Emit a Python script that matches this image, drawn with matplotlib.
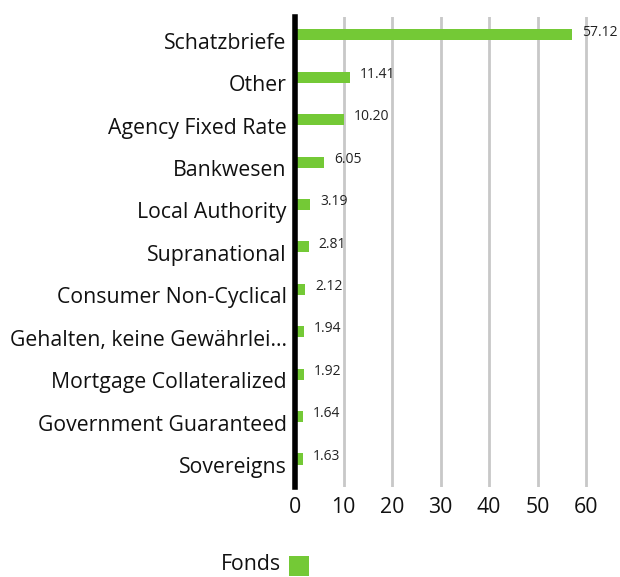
import matplotlib
matplotlib.use("Agg")
import matplotlib.pyplot as plt
import matplotlib.transforms as mtransforms
from matplotlib.patches import Rectangle

categories = ["Schatzbriefe", "Other", "Agency Fixed Rate", "Bankwesen", "Local Authority",
              "Supranational", "Consumer Non-Cyclical", "Gehalten, keine Gewährlei...",
              "Mortgage Collateralized", "Government Guaranteed", "Sovereigns"]
values = [57.12, 11.41, 10.20, 6.05, 3.19, 2.81, 2.12, 1.94, 1.92, 1.64, 1.63]
xticks = [0, 10, 20, 30, 40, 50, 60]
series_name = "Fonds"

green = "#74C936"
plt.rcParams['font.family'] = ['Open Sans', 'DejaVu Sans']

W, H = 620, 577
fig = plt.figure(figsize=(W/100, H/100), dpi=100)
x0, x60 = 295, 586
ytop, ybot = 17, 487
xmax = 62
x1 = x0 + (x60 - x0) * xmax / 60
ax = fig.add_axes([x0/W, 1-ybot/H, (x1-x0)/W, (ybot-ytop)/H])

pos = list(range(len(categories)))
ax.barh(pos, values, height=0.26, color=green, zorder=3)
ax.set_xlim(0, xmax)
ax.set_ylim(10.66, -0.42)
ax.set_yticks(pos)
ax.set_yticklabels(categories, fontsize=15.3, color="#111111")
ax.set_xticks(xticks)
ax.set_xticklabels([str(t) for t in xticks], fontsize=15.3, color="#111111")
ax.tick_params(axis='y', length=0, pad=6)
ax.tick_params(axis='x', length=0, pad=7)
shift = mtransforms.ScaledTranslation(0, -6/100, fig.dpi_scale_trans)
for lbl in ax.get_yticklabels():
    lbl.set_transform(lbl.get_transform() + shift)
for s in ["top", "right", "bottom"]:
    ax.spines[s].set_visible(False)
ax.spines["left"].set_linewidth(4)
ax.spines["left"].set_color("black")
ax.spines["left"].set_zorder(4)
ax.grid(axis='x', color="#c8c8c8", linewidth=2, zorder=1)
ax.grid(axis='y', visible=False)

for i, v in enumerate(values):
    ax.annotate(f"{v:.2f}", (v, i), xytext=(7, 2), textcoords="offset points",
                fontsize=10, va="center", ha="left", color="#222222", annotation_clip=False)

# legend
fig.text(281/W, 1-565/H, series_name, fontsize=15.3, ha="right", va="center", color="#111111")
fig.patches.append(Rectangle((289/W, 1-576/H), 20/W, 20/H, transform=fig.transFigure,
                             facecolor=green, edgecolor="none"))

fig.savefig("out.png", dpi=100)
